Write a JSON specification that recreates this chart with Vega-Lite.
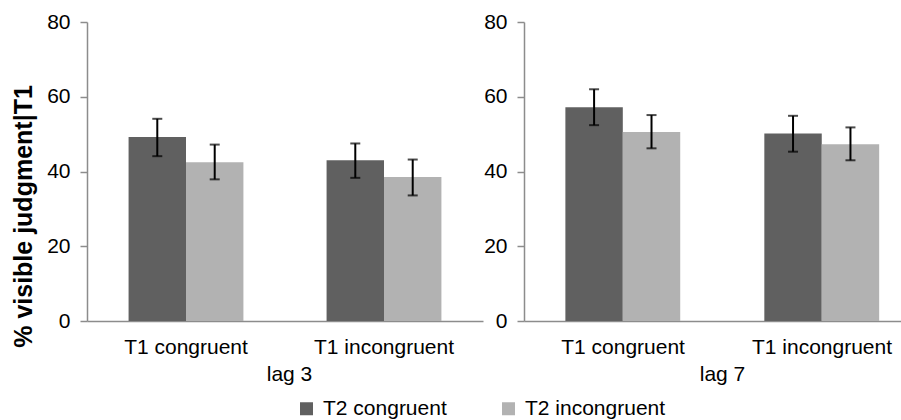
{
  "$schema": "https://vega.github.io/schema/vega-lite/v6.json",
  "padding": {"left": 11, "top": 11, "right": 0, "bottom": 0},
  "config": {
    "font": "Liberation Sans",
    "view": {"stroke": null},
    "concat": {"spacing": 0},
    "axis": {
      "labelFontSize": 21, "titleFontSize": 21, "labelColor": "#000", "titleColor": "#000",
      "domainColor": "#8c8c8c", "tickColor": "#8c8c8c", "domainWidth": 1.5, "tickWidth": 1.5,
      "grid": false, "labelFont": "Liberation Sans", "titleFont": "Liberation Sans"
    },
    "legend": {
      "direction": "horizontal", "symbolType": "square", "symbolSize": 169,
      "symbolStrokeWidth": 0, "labelFontSize": 21, "labelColor": "#000", "labelFont": "Liberation Sans",
      "labelOffset": 6, "columnPadding": 51, "padding": 0
    }
  },
  "datasets": {
    "d": [
      {"lag": "lag 3", "t1": "T1 congruent", "t2": "T2 congruent", "value": 49.2, "lo": 44.1, "hi": 54.1},
      {"lag": "lag 3", "t1": "T1 congruent", "t2": "T2 incongruent", "value": 42.5, "lo": 37.9, "hi": 47.2},
      {"lag": "lag 3", "t1": "T1 incongruent", "t2": "T2 congruent", "value": 43.0, "lo": 38.3, "hi": 47.5},
      {"lag": "lag 3", "t1": "T1 incongruent", "t2": "T2 incongruent", "value": 38.5, "lo": 33.6, "hi": 43.2},
      {"lag": "lag 7", "t1": "T1 congruent", "t2": "T2 congruent", "value": 57.2, "lo": 52.4, "hi": 62.0},
      {"lag": "lag 7", "t1": "T1 congruent", "t2": "T2 incongruent", "value": 50.6, "lo": 46.2, "hi": 55.1},
      {"lag": "lag 7", "t1": "T1 incongruent", "t2": "T2 congruent", "value": 50.2, "lo": 45.3, "hi": 54.9},
      {"lag": "lag 7", "t1": "T1 incongruent", "t2": "T2 incongruent", "value": 47.3, "lo": 43.0, "hi": 51.8}
    ]
  },
  "resolve": {"scale": {"color": "shared"}},
  "hconcat": [
    {
      "width": 396, "height": 299,
      "data": {"name": "d"},
      "transform": [{"filter": "datum.lag == 'lag 3'"}],
      "encoding": {
        "x": {"field": "t1", "type": "nominal", "sort": ["T1 congruent", "T1 incongruent"],
          "scale": {"paddingInner": 0.42, "paddingOuter": 0.21},
          "axis": {"title": "lag 3", "labelAngle": 0, "ticks": false, "labelPadding": 15, "titlePadding": 6, "titleFontWeight": "normal", "titleX": 202}},
        "xOffset": {"field": "t2", "type": "nominal", "sort": ["T2 congruent", "T2 incongruent"]}
      },
      "layer": [
        {"mark": {"type": "bar"},
         "encoding": {
           "y": {"field": "value", "type": "quantitative", "title": "% visible judgment|T1",
             "scale": {"domain": [0, 80], "nice": false},
             "axis": {"values": [0, 20, 40, 60, 80], "titleFontWeight": "bold", "titleFontSize": 25, "tickSize": 7, "labelPadding": 10, "titlePadding": 10, "titleY": 194}},
           "color": {"field": "t2", "type": "nominal", "scale": {"domain": ["T2 congruent", "T2 incongruent"], "range": ["#606060", "#b2b2b2"]},
             "legend": {"title": null, "orient": "none", "legendX": 209, "legendY": 376}}
         }},
        {"mark": {"type": "rule", "color": "#000", "strokeWidth": 2},
         "encoding": {"y": {"field": "lo", "type": "quantitative", "title": "% visible judgment|T1"}, "y2": {"field": "hi"}}},
        {"mark": {"type": "tick", "color": "#000", "thickness": 2, "size": 10, "orient": "horizontal"},
         "encoding": {"y": {"field": "lo", "type": "quantitative", "title": "% visible judgment|T1"}}},
        {"mark": {"type": "tick", "color": "#000", "thickness": 2, "size": 10, "orient": "horizontal"},
         "encoding": {"y": {"field": "hi", "type": "quantitative", "title": "% visible judgment|T1"}}}
      ]
    },
    {
      "width": 378, "height": 299,
      "data": {"name": "d"},
      "transform": [{"filter": "datum.lag == 'lag 7'"}],
      "encoding": {
        "x": {"field": "t1", "type": "nominal", "sort": ["T1 congruent", "T1 incongruent"],
          "scale": {"paddingInner": 0.42, "paddingOuter": 0.16, "align": 0.65},
          "axis": {"title": "lag 7", "labelAngle": 0, "ticks": false, "labelPadding": 15, "titlePadding": 6, "titleFontWeight": "normal", "titleX": 198}},
        "xOffset": {"field": "t2", "type": "nominal", "sort": ["T2 congruent", "T2 incongruent"]}
      },
      "layer": [
        {"mark": {"type": "bar"},
         "encoding": {
           "y": {"field": "value", "type": "quantitative", "title": null,
             "scale": {"domain": [0, 80], "nice": false},
             "axis": {"values": [0, 20, 40, 60, 80], "title": null, "tickSize": 7, "labelPadding": 10}},
           "color": {"field": "t2", "type": "nominal", "scale": {"domain": ["T2 congruent", "T2 incongruent"], "range": ["#606060", "#b2b2b2"]},
             "legend": {"title": null, "orient": "none", "legendX": 209, "legendY": 376}}
         }},
        {"mark": {"type": "rule", "color": "#000", "strokeWidth": 2},
         "encoding": {"y": {"field": "lo", "type": "quantitative", "title": null}, "y2": {"field": "hi"}}},
        {"mark": {"type": "tick", "color": "#000", "thickness": 2, "size": 10, "orient": "horizontal"},
         "encoding": {"y": {"field": "lo", "type": "quantitative", "title": null}}},
        {"mark": {"type": "tick", "color": "#000", "thickness": 2, "size": 10, "orient": "horizontal"},
         "encoding": {"y": {"field": "hi", "type": "quantitative", "title": null}}}
      ]
    }
  ]
}
